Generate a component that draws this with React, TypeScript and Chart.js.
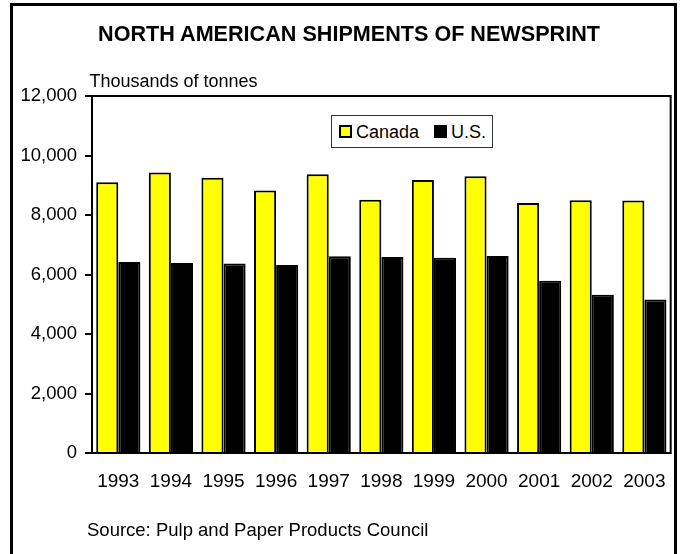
import React, { useEffect, useRef } from "react";
import { Chart, registerables } from "chart.js";

Chart.register(...registerables);

const years = ["1993", "1994", "1995", "1996", "1997", "1998", "1999", "2000", "2001", "2002", "2003"];
const canada = [9100, 9430, 9250, 8820, 9370, 8510, 9180, 9300, 8400, 8500, 8490];
const us = [6420, 6390, 6370, 6320, 6610, 6590, 6560, 6620, 5790, 5320, 5160];
const seriesNames = ["Canada", "U.S."];
const seriesColors = ["#FFFF00", "#000000"];
const yMin = 0;
const yMax = 12000;
const yStep = 2000;
const title = "NORTH AMERICAN SHIPMENTS OF NEWSPRINT";
const unitLabel = "Thousands of tonnes";
const sourceNote = "Source: Pulp and Paper Products Council";

const FONT = "'Liberation Sans', Arial, Helvetica, sans-serif";

const framePlugin = {
  id: "frame",
  afterDatasetsDraw(chart: any) {
    const { ctx, chartArea: a } = chart;
    ctx.save();
    ctx.strokeStyle = "#000";
    ctx.lineWidth = 2;
    ctx.strokeRect(a.left, a.top, a.right - a.left, a.bottom - a.top);
    ctx.restore();
  },
};

export default function App() {
  const ref = useRef<HTMLCanvasElement | null>(null);

  useEffect(() => {
    if (!ref.current) return;
    const chart = new Chart(ref.current, {
      type: "bar",
      data: {
        labels: years,
        datasets: [
          {
            label: seriesNames[0],
            data: canada,
            backgroundColor: seriesColors[0],
            borderColor: "#000000",
            borderWidth: 2,
          },
          {
            label: seriesNames[1],
            data: us,
            backgroundColor: seriesColors[1],
            borderColor: "#000000",
            borderWidth: 2,
          },
        ],
      },
      options: {
        responsive: false,
        animation: false,
        devicePixelRatio: 1,
        layout: { padding: { left: 0, top: 96, right: 11, bottom: 0 } },
        datasets: { bar: { categoryPercentage: 0.84, barPercentage: 1 } },
        plugins: {
          legend: { display: false },
          title: { display: false },
          tooltip: { enabled: false },
        },
        scales: {
          x: {
            afterFit: (s: any) => {
              s.height = 101;
            },
            grid: { display: true, drawOnChartArea: false, drawTicks: false, color: "#000" },
            border: { display: true, color: "#000", width: 2 },
            ticks: {
              color: "#000",
              padding: 17,
              maxRotation: 0,
              autoSkip: false,
              font: { family: FONT, size: 19 },
            },
          },
          y: {
            min: yMin,
            max: yMax,
            afterFit: (s: any) => {
              s.width = 92;
            },
            grid: {
              display: true,
              drawOnChartArea: false,
              drawTicks: true,
              tickLength: 7,
              color: "#000",
              lineWidth: 2,
            },
            border: { display: true, color: "#000", width: 2 },
            ticks: {
              stepSize: yStep,
              color: "#000",
              padding: 8,
              font: { family: FONT, size: 18.5 },
              callback: (v: any) => Number(v).toLocaleString("en-US"),
            },
          },
        },
      },
      plugins: [framePlugin],
    });
    return () => chart.destroy();
  }, []);

  return (
    <div
      style={{
        position: "fixed",
        left: 0,
        top: 0,
        width: 683,
        height: 554,
        overflow: "hidden",
        background: "#fff",
        fontFamily: FONT,
        color: "#000",
      }}
    >
      <canvas ref={ref} width={683} height={554} style={{ position: "absolute", left: 0, top: 0 }} />
      <div
        style={{
          position: "absolute",
          left: 10,
          top: 3,
          width: 661,
          height: 620,
          border: "3px solid #000",
          pointerEvents: "none",
        }}
      />
      <div
        style={{
          position: "absolute",
          left: 349,
          top: 23,
          transform: "translateX(-50%)",
          whiteSpace: "nowrap",
          fontWeight: "bold",
          fontSize: 21.6,
          lineHeight: "21px",
        }}
      >
        {title}
      </div>
      <div
        style={{
          position: "absolute",
          left: 89.5,
          top: 72,
          whiteSpace: "nowrap",
          fontSize: 18,
          lineHeight: "18px",
        }}
      >
        {unitLabel}
      </div>
      <div
        style={{
          position: "absolute",
          left: 331,
          top: 115,
          width: 162,
          height: 33,
          boxSizing: "border-box",
          border: "1px solid #333",
          background: "#fff",
          display: "flex",
          alignItems: "center",
          paddingLeft: 7,
          fontSize: 18,
          lineHeight: "18px",
          whiteSpace: "nowrap",
        }}
      >
        {seriesNames.map((name, i) => (
          <div key={name} style={{ display: "flex", alignItems: "center", marginRight: i === 0 ? 15 : 0 }}>
            <span
              style={{
                display: "inline-block",
                width: 13,
                height: 13,
                boxSizing: "border-box",
                background: seriesColors[i],
                border: "2px solid #000",
                marginRight: 4,
              }}
            />
            <span>{name}</span>
          </div>
        ))}
      </div>
      <div
        style={{
          position: "absolute",
          left: 87,
          top: 521,
          whiteSpace: "nowrap",
          fontSize: 18.5,
          lineHeight: "18px",
        }}
      >
        {sourceNote}
      </div>
    </div>
  );
}
